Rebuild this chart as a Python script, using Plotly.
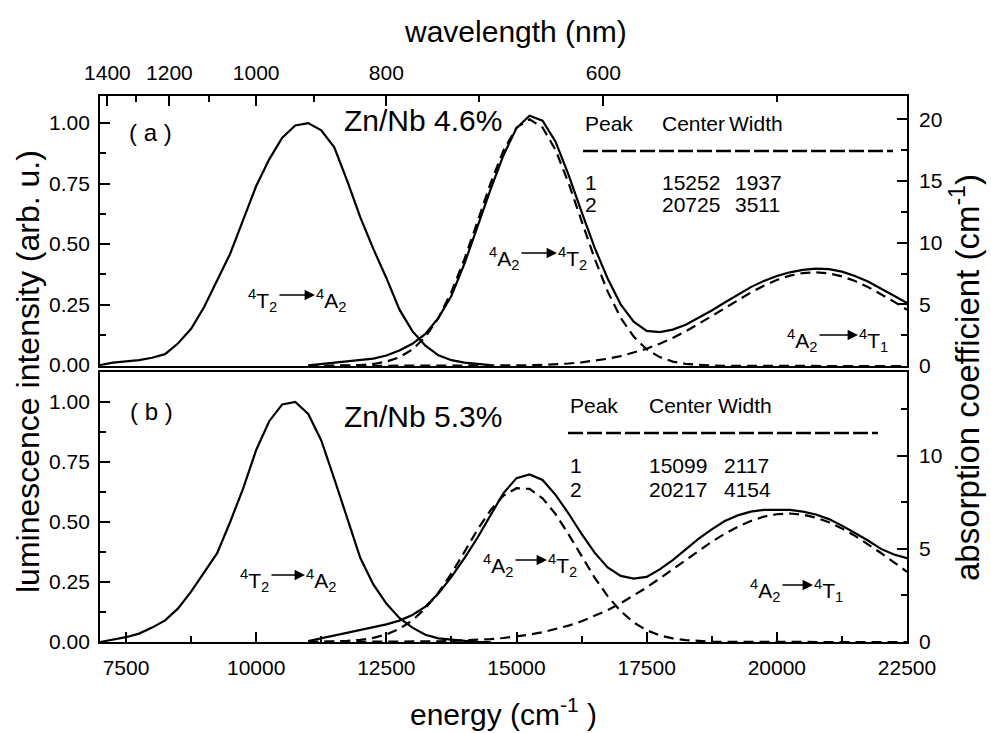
import plotly.graph_objects as go

# ---------------- data ----------------
energy_lum = [7000, 7250, 7500, 7750, 8000, 8250, 8500, 8750, 9000, 9250, 9500, 9750,
              10000, 10250, 10500, 10750, 11000, 11250, 11500, 11750, 12000, 12250,
              12500, 12750, 13000, 13250, 13500, 13750, 14000, 14250, 14500]
lum_a = [0.00, 0.01, 0.015, 0.02, 0.03, 0.045, 0.09, 0.15, 0.24, 0.35, 0.46, 0.60,
         0.74, 0.85, 0.94, 0.99, 1.00, 0.97, 0.90, 0.76, 0.61, 0.48,
         0.36, 0.23, 0.14, 0.08, 0.04, 0.02, 0.01, 0.005, 0.0]
lum_b = [0.0, 0.01, 0.02, 0.035, 0.06, 0.09, 0.14, 0.21, 0.29, 0.37, 0.50, 0.64,
         0.80, 0.92, 0.99, 1.00, 0.95, 0.84, 0.68, 0.51, 0.35, 0.24,
         0.16, 0.10, 0.06, 0.03, 0.015, 0.01, 0.005, 0.0, 0.0]

energy_abs = [11000, 11250, 11500, 11750, 12000, 12250, 12500, 12750, 13000, 13250,
              13500, 13750, 14000, 14250, 14500, 14750, 15000, 15250, 15500, 15750,
              16000, 16250, 16500, 16750, 17000, 17250, 17500, 17750, 18000, 18250,
              18500, 18750, 19000, 19250, 19500, 19750, 20000, 20250, 20500, 20750,
              21000, 21250, 21500, 21750, 22000, 22250, 22500]
abs_a = [0.05, 0.15, 0.25, 0.35, 0.45, 0.6, 0.85, 1.25, 1.8, 2.6,
         3.9, 5.7, 8.3, 11.3, 14.3, 17.1, 19.3, 20.3, 19.9, 18.2,
         15.5, 12.5, 9.6, 7.1, 5.0, 3.6, 2.85, 2.75, 2.95, 3.35,
         3.9, 4.5, 5.15, 5.8, 6.4, 6.9, 7.3, 7.6, 7.8, 7.9,
         7.85, 7.65, 7.3, 6.85, 6.3, 5.7, 5.1]
fit_a1 = [0.0, 0.004, 0.011, 0.029, 0.071, 0.165, 0.352, 0.71, 1.34, 2.36,
          3.90, 6.01, 8.67, 11.71, 14.80, 17.49, 19.33, 20.0, 19.35, 17.52,
          14.84, 11.76, 8.72, 6.05, 3.92, 2.38, 1.35, 0.72, 0.36, 0.17,
          0.072, 0.03, 0.011, 0.004, 0.001, 0, 0, 0, 0, 0,
          0, 0, 0, 0, 0, 0, 0]
fit_a2 = [0, 0, 0, 0, 0, 0, 0, 0, 0.001, 0.001,
          0.002, 0.003, 0.005, 0.009, 0.014, 0.023, 0.037, 0.059, 0.09, 0.137,
          0.203, 0.295, 0.42, 0.585, 0.80, 1.07, 1.40, 1.81, 2.27, 2.81,
          3.41, 4.05, 4.69, 5.35, 5.96, 6.51, 6.98, 7.33, 7.54, 7.60,
          7.51, 7.27, 6.89, 6.41, 5.84, 5.22, 4.56]
abs_b = [0.05, 0.2, 0.35, 0.5, 0.65, 0.8, 0.95, 1.15, 1.45, 1.9,
         2.6, 3.5, 4.5, 5.6, 6.8, 8.0, 8.8, 9.0, 8.7, 7.9,
         6.9, 5.8, 4.8, 4.0, 3.55, 3.4, 3.5, 3.9, 4.4, 5.0,
         5.55, 6.05, 6.5, 6.8, 7.0, 7.1, 7.12, 7.1, 7.0, 6.85,
         6.6, 6.25, 5.85, 5.45, 5.0, 4.7, 4.5]
fit_b1 = [0.005, 0.011, 0.026, 0.056, 0.114, 0.221, 0.408, 0.707, 1.16, 1.81,
          2.65, 3.68, 4.84, 6.03, 7.07, 7.86, 8.26, 8.22, 7.72, 6.87,
          5.78, 4.59, 3.46, 2.46, 1.66, 1.05, 0.63, 0.36, 0.194, 0.099,
          0.048, 0.02, 0.009, 0.003, 0.001, 0, 0, 0, 0, 0,
          0, 0, 0, 0, 0, 0, 0]
fit_b2 = [0.0004, 0.0007, 0.001, 0.0017, 0.0028, 0.0045, 0.007, 0.011, 0.0165, 0.025,
          0.037, 0.054, 0.078, 0.111, 0.156, 0.216, 0.294, 0.395, 0.524, 0.683,
          0.878, 1.113, 1.39, 1.71, 2.08, 2.49, 2.93, 3.41, 3.90, 4.41,
          4.91, 5.38, 5.81, 6.19, 6.50, 6.73, 6.86, 6.90, 6.84, 6.68,
          6.43, 6.10, 5.70, 5.26, 4.78, 4.28, 3.77]

energy_ticks = [7500, 10000, 12500, 15000, 17500, 20000, 22500]
wavelength_major = [1400, 1200, 1000, 800, 600]
wavelength_minor = [1300, 1100, 900, 700, 500]

samples = ["Zn/Nb 4.6%", "Zn/Nb 5.3%"]
table_a = [["1", "15252", "1937"], ["2", "20725", "3511"]]
table_b = [["1", "15099", "2117"], ["2", "20217", "4154"]]

# ---------------- figure ----------------
W, H = 991, 733
L, R, T, B = 100, 84, 96, 91
FONT = "Liberation Sans, Arial, sans-serif"


def px(x):
    return (x - L) / (W - L - R)


def py(y):
    return (H - B - y) / (H - T - B)


solid = dict(color="black", width=2.2)
dashed = dict(color="black", width=2.2, dash="10px,6px")

fig = go.Figure()
# top panel
fig.add_trace(go.Scatter(x=energy_lum, y=lum_a, xaxis="x2", yaxis="y", mode="lines", line=solid))
fig.add_trace(go.Scatter(x=energy_abs, y=abs_a, xaxis="x2", yaxis="y2", mode="lines", line=solid))
fig.add_trace(go.Scatter(x=energy_abs, y=fit_a1, xaxis="x2", yaxis="y2", mode="lines", line=dashed))
fig.add_trace(go.Scatter(x=energy_abs, y=fit_a2, xaxis="x2", yaxis="y2", mode="lines", line=dashed))
# invisible trace to register the wavelength axis
fig.add_trace(go.Scatter(x=energy_lum, y=lum_a, xaxis="x3", yaxis="y", mode="lines",
                         line=dict(width=0), opacity=0, hoverinfo="skip"))
# bottom panel
fig.add_trace(go.Scatter(x=energy_lum, y=lum_b, xaxis="x", yaxis="y3", mode="lines", line=solid))
fig.add_trace(go.Scatter(x=energy_abs, y=abs_b, xaxis="x", yaxis="y4", mode="lines", line=solid))
fig.add_trace(go.Scatter(x=energy_abs, y=fit_b1, xaxis="x", yaxis="y4", mode="lines", line=dashed))
fig.add_trace(go.Scatter(x=energy_abs, y=fit_b2, xaxis="x", yaxis="y4", mode="lines", line=dashed))

TICK = 21
tickfont = dict(family=FONT, size=TICK, color="black")
axline = dict(showline=True, linecolor="black", linewidth=1.8, showgrid=False, zeroline=False)
top_dom = [py(366), 1]
bot_dom = [0, py(372)]
minor_style = dict(ticks="inside", ticklen=6, tickwidth=1.8, tickcolor="black")
major_style = dict(ticks="inside", ticklen=10, tickwidth=1.8, tickcolor="black")

fig.update_layout(
    width=W, height=H,
    margin=dict(l=L, r=R, t=T, b=B),
    paper_bgcolor="white", plot_bgcolor="white",
    showlegend=False,
    font=dict(family=FONT, color="black"),
    xaxis=dict(domain=[0, 1], anchor="y3", range=[7000, 22500], tickvals=energy_ticks,
               tickformat="d", mirror=True, ticklabelstandoff=6,
               minor=dict(tickvals=[8750, 11250, 13750, 16250, 18750, 21250], **minor_style),
               tickfont=tickfont, **major_style, **axline),
    xaxis2=dict(domain=[0, 1], anchor="y", range=[7000, 22500], showticklabels=False,
                ticks="", mirror=True, **axline),
    xaxis3=dict(overlaying="x2", anchor="y", side="top", range=[7000, 22500],
                tickvals=[1e7 / w for w in wavelength_major],
                ticktext=[str(w) for w in wavelength_major], ticklabelstandoff=6,
                minor=dict(tickvals=[1e7 / w for w in wavelength_minor], **minor_style),
                tickfont=tickfont, **major_style, **axline),
    yaxis=dict(domain=top_dom, anchor="x2", range=[-0.004, 1.112], tickvals=[0, 0.25, 0.5, 0.75, 1.0],
               tickformat=".2f", minor=dict(dtick=0.125, tick0=0, **minor_style),
               ticklabelstandoff=4, tickfont=tickfont, **major_style, **axline),
    yaxis2=dict(overlaying="y", anchor="x2", side="right", range=[0, 21.9], tickvals=[0, 5, 10, 15, 20],
                minor=dict(dtick=2.5, tick0=0, **minor_style),
                ticklabelstandoff=6, tickfont=tickfont, **major_style, **axline),
    yaxis3=dict(domain=bot_dom, anchor="x", range=[0, 1.125], tickvals=[0, 0.25, 0.5, 0.75, 1.0],
                tickformat=".2f", minor=dict(dtick=0.125, tick0=0, **minor_style),
                ticklabelstandoff=4, tickfont=tickfont, **major_style, **axline),
    yaxis4=dict(overlaying="y3", anchor="x", side="right", range=[0, 14.5], tickvals=[0, 5, 10],
                minor=dict(dtick=2.5, tick0=0, **minor_style),
                ticklabelstandoff=6, tickfont=tickfont, **major_style, **axline),
)

ann = []


def text(x, y, s, size=18, xanchor="left", angle=0):
    ann.append(dict(x=px(x), y=py(y), xref="paper", yref="paper", text=s, showarrow=False,
                    xanchor=xanchor, yanchor="middle", textangle=angle,
                    font=dict(family=FONT, size=size, color="black")))


def transition(x0, x1, y, left, right):
    text(x0 + 1, y + 2, left, size=21, xanchor="right")
    text(x1 - 1, y + 2, right, size=21, xanchor="left")
    ann.append(dict(x=px(x1), y=py(y - 3), xref="paper", yref="paper", text="", showarrow=True,
                    ax=-(x1 - x0), ay=0, arrowhead=2, arrowsize=1.6, arrowwidth=1.3,
                    arrowcolor="black", standoff=0, startstandoff=0))


# axis titles
text(515, 32, "wavelength (nm)", size=30, xanchor="center")
text(503, 712, "energy (cm<sup>-1</sup> )", size=30, xanchor="center")
text(28, 372, "luminescence intensity (arb. u.)", size=32, xanchor="center", angle=-90)
text(965, 378, "absorption coefficient (cm<sup>-1</sup>)", size=33, xanchor="center", angle=-90)

# panel labels
text(150, 132, "( a )", size=24, xanchor="center")
text(151, 411, "( b )", size=24, xanchor="center")
text(342, 121, samples[0], size=30)
text(342, 416, samples[1], size=30)

# tables
for (x_cols, y_head, y_line, y_rows, x_end, rows) in [
        ((583, 660, 733), 123, 151, (182, 205), 893, table_a),
        ((568, 647, 722), 405, 433, (465, 489), 878, table_b)]:
    text(x_cols[0], y_head, "Peak", size=21)
    text(x_cols[1], y_head, "Center", size=21)
    text(x_cols[2] - 6, y_head, "Width", size=21)
    fig.add_shape(type="line", xref="paper", yref="paper", x0=px(x_cols[0]), x1=px(x_end),
                  y0=py(y_line), y1=py(y_line), line=dict(color="black", width=2.5, dash="15px,4px"))
    for yr, row in zip(y_rows, rows):
        for xc, val in zip(x_cols, row):
            text(xc, yr, val, size=21)

# transitions
transition(278, 315, 298, "<sup>4</sup>T<sub>2</sub>", "<sup>4</sup>A<sub>2</sub>")
transition(520, 557, 256, "<sup>4</sup>A<sub>2</sub>", "<sup>4</sup>T<sub>2</sub>")
transition(818, 858, 338, "<sup>4</sup>A<sub>2</sub>", "<sup>4</sup>T<sub>1</sub>")
transition(270, 305, 578, "<sup>4</sup>T<sub>2</sub>", "<sup>4</sup>A<sub>2</sub>")
transition(514, 547, 563, "<sup>4</sup>A<sub>2</sub>", "<sup>4</sup>T<sub>2</sub>")
transition(781, 813, 588, "<sup>4</sup>A<sub>2</sub>", "<sup>4</sup>T<sub>1</sub>")

fig.update_layout(annotations=ann)
fig.write_html("out.html", config={"displayModeBar": False},
               post_script="document.body.style.margin='0px';document.body.style.overflow='hidden';")
